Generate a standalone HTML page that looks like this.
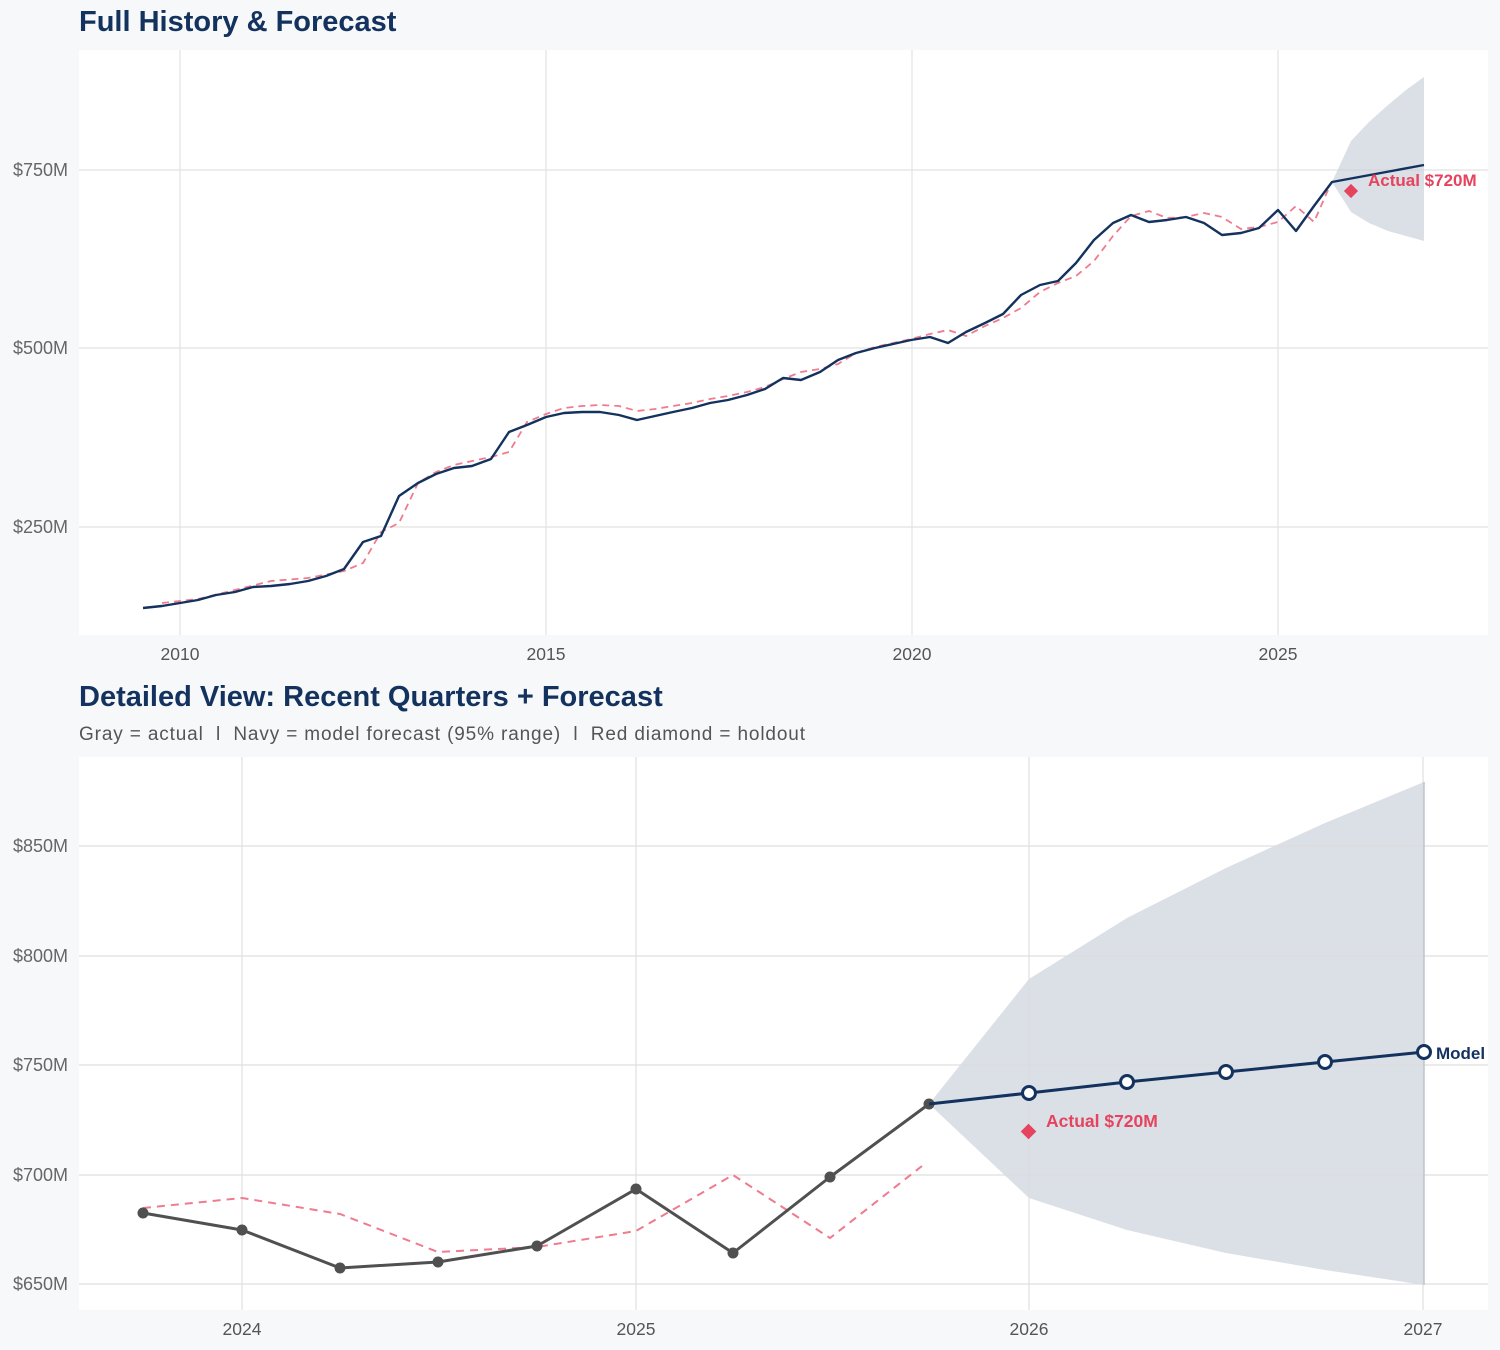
<!DOCTYPE html>
<html><head><meta charset="utf-8"><style>
html,body{margin:0;padding:0;background:#f7f8fa;}
svg{display:block;font-family:"Liberation Sans",sans-serif;}
</style></head><body>
<svg width="1500" height="1350" viewBox="0 0 1500 1350" xmlns="http://www.w3.org/2000/svg">
<rect width="1500" height="1350" fill="#f7f8fa"/>
<!-- TOP -->
<text x="79" y="31" font-size="29" font-weight="bold" fill="#13325e">Full History &amp; Forecast</text>
<rect x="79" y="50" width="1409" height="585" fill="#fff"/>
<g stroke="#e2e2e2" stroke-width="1.2">
<line x1="79" x2="1488" y1="170" y2="170"/><line x1="79" x2="1488" y1="348" y2="348"/><line x1="79" x2="1488" y1="527" y2="527"/>
<line x1="180" x2="180" y1="50" y2="635"/><line x1="546" x2="546" y1="50" y2="635"/><line x1="912" x2="912" y1="50" y2="635"/><line x1="1278" x2="1278" y1="50" y2="635"/>
</g>
<g font-size="18" fill="#666" text-anchor="end">
<text x="68" y="176">$750M</text><text x="68" y="354">$500M</text><text x="68" y="533">$250M</text>
</g>
<g font-size="17.5" fill="#555" text-anchor="middle">
<text x="180" y="660">2010</text><text x="546" y="660">2015</text><text x="912" y="660">2020</text><text x="1278" y="660">2025</text>
</g>
<polygon points="1332,182 1351,141 1369,122 1388,105 1406,90 1424,77 1424,241 1406,236 1388,231 1369,223 1351,212" fill="#ccd2dc" opacity="0.7"/>
<polyline fill="none" stroke="#ef7b8e" stroke-width="1.8" stroke-dasharray="7,5" points="162,603 198,599 235,590 271,581 308,578 344,571 363,563 381,532 399,523 418,483 436,472 454,465 472,461 491,457 509,452 527,422 546,414 564,408 582,406 600,405 619,406 637,411 655,409 673,406 692,403 710,399 728,396 747,392 765,387 783,379 801,372 820,369 838,364 856,353 875,347 893,343 911,339 930,334 948,330 966,336 985,326 1003,318 1021,308 1040,292 1058,283 1076,276 1094,261 1113,236 1131,216 1149,211 1167,218 1186,217 1204,213 1222,217 1241,229 1259,227 1278,222 1296,206 1314,222 1328,190"/>
<polyline fill="none" stroke="#13325e" stroke-width="2.4" stroke-linejoin="round" points="143,608 162,606 180,603 198,600 216,595 235,592 253,587 271,586 290,584 308,581 326,576 344,569 363,542 381,536 399,496 418,483 436,474 454,468 472,466 491,459 509,432 527,425 546,417 564,413 582,412 600,412 619,415 637,420 655,416 673,412 692,408 710,403 728,400 747,395 765,389 783,378 801,380 820,372 838,360 856,353 875,348 893,344 911,340 930,337 948,343 966,332 985,323 1003,314 1021,295 1040,285 1058,281 1076,263 1094,240 1113,223 1131,215 1149,222 1167,220 1186,217 1204,223 1222,235 1241,233 1259,228 1278,210 1296,231 1314,206 1332,182 1424,165"/>
<rect x="1346" y="186" width="10" height="10" fill="#e5435e" transform="rotate(45 1351 191)"/>
<text x="1368" y="186" font-size="17" font-weight="bold" fill="#e5435e">Actual $720M</text>

<!-- BOTTOM -->
<text x="79" y="706" font-size="29" font-weight="bold" fill="#13325e">Detailed View: Recent Quarters + Forecast</text>
<text x="79" y="740" font-size="19" fill="#555" xml:space="preserve" textLength="726" lengthAdjust="spacing">Gray = actual  l  Navy = model forecast (95% range)  l  Red diamond = holdout</text>
<rect x="79" y="757" width="1409" height="553" fill="#fff"/>
<polygon points="929,1104 1029,979 1127,918 1226,868 1325,823 1424,782 1424,1285 1325,1270 1226,1253 1127,1230 1029,1198" fill="#ccd2dc" opacity="0.7"/>
<g stroke="#dcdcdc" stroke-width="1.2" opacity="0.9">
<line x1="79" x2="1488" y1="846" y2="846"/><line x1="79" x2="1488" y1="956" y2="956"/><line x1="79" x2="1488" y1="1065" y2="1065"/><line x1="79" x2="1488" y1="1175" y2="1175"/><line x1="79" x2="1488" y1="1284" y2="1284"/>
<line x1="242" x2="242" y1="757" y2="1310"/><line x1="636" x2="636" y1="757" y2="1310"/><line x1="1029" x2="1029" y1="757" y2="1310"/><line x1="1423" x2="1423" y1="757" y2="1310"/>
</g>
<line x1="1424" x2="1424" y1="782" y2="1285" stroke="#bfc5cf" stroke-width="1.5"/>
<g font-size="18" fill="#666" text-anchor="end">
<text x="68" y="852">$850M</text><text x="68" y="962">$800M</text><text x="68" y="1071">$750M</text><text x="68" y="1181">$700M</text><text x="68" y="1290">$650M</text>
</g>
<g font-size="17.5" fill="#555" text-anchor="middle">
<text x="242" y="1335">2024</text><text x="636" y="1335">2025</text><text x="1029" y="1335">2026</text><text x="1423" y="1335">2027</text>
</g>
<polyline fill="none" stroke="#ef7b8e" stroke-width="2" stroke-dasharray="8,6" points="143,1208 242,1198 340,1214 438,1252 537,1247 636,1231 733,1175 830,1238 922,1166"/>
<polyline fill="none" stroke="#505050" stroke-width="3" stroke-linejoin="round" points="143,1213 242,1230 340,1268 438,1262 537,1246 636,1189 733,1253 830,1177 929,1104"/>
<g fill="#505050">
<circle cx="143" cy="1213" r="5.5"/><circle cx="242" cy="1230" r="5.5"/><circle cx="340" cy="1268" r="5.5"/><circle cx="438" cy="1262" r="5.5"/><circle cx="537" cy="1246" r="5.5"/><circle cx="636" cy="1189" r="5.5"/><circle cx="733" cy="1253" r="5.5"/><circle cx="830" cy="1177" r="5.5"/><circle cx="929" cy="1104" r="5.5"/>
</g>
<polyline fill="none" stroke="#13325e" stroke-width="3" points="929,1104 1029,1093 1127,1082 1226,1072 1325,1062 1424,1052"/>
<g fill="#fff" stroke="#13325e" stroke-width="3">
<circle cx="1029" cy="1093" r="6.5"/><circle cx="1127" cy="1082" r="6.5"/><circle cx="1226" cy="1072" r="6.5"/><circle cx="1325" cy="1062" r="6.5"/><circle cx="1424" cy="1052" r="6.5"/>
</g>
<text x="1436" y="1059" font-size="17" font-weight="bold" fill="#13325e">Model</text>
<rect x="1023" y="1126" width="11" height="11" fill="#e5435e" transform="rotate(45 1028.5 1131.5)"/>
<text x="1046" y="1127" font-size="17.5" font-weight="bold" fill="#e5435e">Actual $720M</text>
</svg>
</body></html>
